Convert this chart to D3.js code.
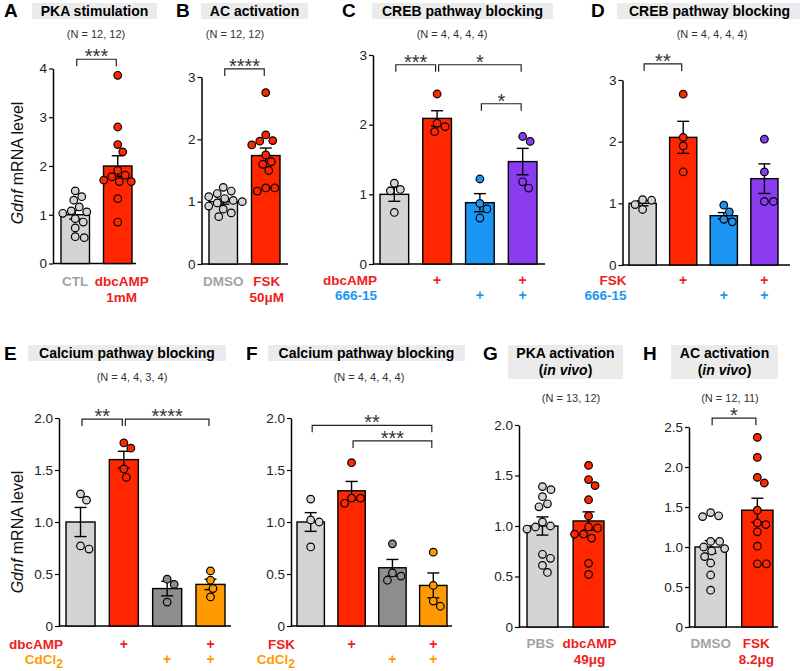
<!DOCTYPE html>
<html>
<head>
<meta charset="utf-8">
<title>Gdnf mRNA panels</title>
<script src="https://d3js.org/d3.v7.min.js"></script>
<style>
  * { margin: 0; padding: 0; }
  body { background: #fff; }
  svg { display: block; font-family: "Liberation Sans", Arial, sans-serif; }
</style>
</head>
<body>
<div id="chart"></div>
<script>
// colours
const GREY = "#d4d4d4", RED = "#ff2600", BLUE = "#1b96f3", PURPLE = "#8b3cf0",
      DGREY = "#8e8e8e", ORANGE = "#ff9a00", LABEL_GREY = "#a3a3a3", TXT_RED = "#f0201c";

// ---- A: PKA stimulation
const aValues = [
  [1.49, 1.37, 1.30, 1.16, 1.03, 1.06, 1.08, 0.92, 0.85, 0.73, 0.53, 0.55],
  [3.86, 2.80, 2.44, 2.29, 1.91, 1.81, 1.78, 1.71, 1.68, 1.68, 1.33, 0.85]
];
const aMeans = [1.00, 2.00];
const aSems = [0.09, 0.21];

// ---- B: AC activation
const bValues = [
  [1.23, 1.17, 1.13, 1.08, 1.05, 1.02, 1.00, 0.98, 0.93, 0.88, 0.82, 0.76],
  [2.75, 2.07, 1.98, 1.97, 1.91, 1.75, 1.64, 1.60, 1.50, 1.22, 1.22, 1.17]
];
const bMeans = [1.00, 1.74];
const bSems = [0.04, 0.12];

// ---- C: CREB pathway blocking (dbcAMP)
const cValues = [
  [1.16, 1.07, 1.05, 0.74],
  [2.44, 2.02, 1.97, 1.90],
  [1.22, 0.87, 0.79, 0.66],
  [1.83, 1.76, 1.18, 1.09]
];
const cMeans = [1.00, 2.09, 0.88, 1.47];
const cSems = [0.10, 0.11, 0.13, 0.19];

// ---- D: CREB pathway blocking (FSK)
const dValues = [
  [1.06, 1.05, 0.98, 0.90],
  [2.77, 2.07, 1.93, 1.51],
  [0.97, 0.86, 0.74, 0.70],
  [2.04, 1.51, 1.03, 1.03]
];
const dMeans = [1.00, 2.07, 0.80, 1.40];
const dSems = [0.04, 0.26, 0.05, 0.24];

// ---- E: calcium pathway blocking (dbcAMP)
const eValues = [
  [1.27, 1.21, 0.77, 0.74],
  [1.76, 1.71, 1.51, 1.43],
  [0.45, 0.40, 0.23],
  [0.53, 0.44, 0.36, 0.28]
];
const eMeans = [1.00, 1.60, 0.36, 0.40];
const eSems = [0.14, 0.08, 0.07, 0.05];

// ---- F: calcium pathway blocking (FSK)
const fValues = [
  [1.22, 1.02, 1.00, 0.76],
  [1.57, 1.23, 1.23, 1.18],
  [0.79, 0.51, 0.48, 0.44],
  [0.71, 0.39, 0.24, 0.19]
];
const fMeans = [1.00, 1.30, 0.56, 0.39];
const fSems = [0.09, 0.09, 0.08, 0.12];

// ---- G: PKA activation in vivo
const gValues = [
  [1.36, 1.39, 1.29, 1.22, 1.19, 1.04, 1.00, 0.99, 0.97, 0.72, 0.68, 0.61, 0.54],
  [1.60, 1.46, 1.40, 1.26, 1.10, 0.98, 0.99, 0.92, 0.92, 0.88, 0.63, 0.52]
];
const gMeans = [1.00, 1.05];
const gSems = [0.09, 0.09];

// ---- H: AC activation in vivo
const hValues = [
  [1.43, 1.38, 1.39, 1.07, 1.07, 1.00, 0.98, 0.95, 0.88, 0.80, 0.65, 0.46],
  [2.37, 2.12, 1.87, 1.80, 1.46, 1.30, 1.28, 1.19, 1.01, 0.79, 0.79]
];
const hMeans = [1.00, 1.46];
const hSems = [0.08, 0.15];

// tick values / labels
const ticks4 = [0, 1, 2, 3, 4];
const ticks3 = [0, 1, 2, 3];
const ticks2 = [0, 0.5, 1, 1.5, 2];
const ticks25 = [0, 0.5, 1, 1.5, 2, 2.5];
const fmtInt = d => String(d);
const fmtDec = d => d === 0 ? "0" : d.toFixed(1);

// significance brackets: [from bar, to bar, stars, height in data units]
const aSig = [[0, 1, "***", 4.19]];
const bSig = [[0, 1, "****", 3.13]];
const cSig = [[0, 1, "***", 2.86], [1, 3, "*", 2.86], [2, 3, "*", 2.30]];
const dSig = [[0, 1, "**", 3.26]];
const eSig = [[0, 1, "**", 1.99], [1, 3, "****", 1.99]];
const fSig = [[0, 3, "**", 1.93], [1, 3, "***", 1.78]];
const hSig = [[0, 1, "*", 2.61]];

const panels = [
  { letter: "A", lx: 4, ly: 17, title: ["PKA stimulation"], box: [32, 157], ty: 3,
    n: "(N = 12, 12)", nx: 96, ny: 38,
    values: aValues, means: aMeans, sems: aSems, colors: [GREY, RED],
    ticks: ticks4, fmt: fmtInt, yMax: 4, y0: 263.5, y1: 68.5,
    axisX: 53, axisEnd: 136, barL: 61, barR: 132, sig: aSig,
    groups: [[["CTL"], LABEL_GREY, 0], [["dbcAMP", "1mM"], TXT_RED, 4]], gy: 286 },
  { letter: "B", lx: 176, ly: 17, title: ["AC activation"], box: [201, 308], ty: 3,
    n: "(N = 12, 12)", nx: 235, ny: 38,
    values: bValues, means: bMeans, sems: bSems, colors: [GREY, RED],
    ticks: ticks3, fmt: fmtInt, yMax: 3, y0: 264, y1: 77,
    axisX: 201.5, axisEnd: 288, barL: 209, barR: 280, sig: bSig,
    groups: [[["DMSO"], LABEL_GREY, 0], [["FSK", "50\u03bcM"], TXT_RED, 1]], gy: 286 },
  { letter: "C", lx: 342, ly: 17, title: ["CREB pathway blocking"], box: [372, 553], ty: 3,
    n: "(N = 4, 4, 4, 4)", nx: 452, ny: 38,
    values: cValues, means: cMeans, sems: cSems, colors: [GREY, RED, BLUE, PURPLE],
    ticks: ticks3, fmt: fmtInt, yMax: 3, y0: 264, y1: 55,
    axisX: 373, axisEnd: 545, barL: 380, barR: 537, sig: cSig,
    rows: [[["dbcAMP"], TXT_RED, [0, 1, 0, 1]], [["666-15"], BLUE, [0, 0, 1, 1]]], ry: 285 },
  { letter: "D", lx: 591, ly: 17, title: ["CREB pathway blocking"], box: [617, 802], ty: 3,
    n: "(N = 4, 4, 4, 4)", nx: 712, ny: 38,
    values: dValues, means: dMeans, sems: dSems, colors: [GREY, RED, BLUE, PURPLE],
    ticks: ticks3, fmt: fmtInt, yMax: 3, y0: 265, y1: 80,
    axisX: 622.5, axisEnd: 790, barL: 629, barR: 778, sig: dSig,
    rows: [[["FSK"], TXT_RED, [0, 1, 0, 1]], [["666-15"], BLUE, [0, 0, 1, 1]]], ry: 285 },
  { letter: "E", lx: 4, ly: 360, title: ["Calcium pathway blocking"], box: [28, 226], ty: 345,
    n: "(N = 4, 4, 3, 4)", nx: 132, ny: 381,
    values: eValues, means: eMeans, sems: eSems, colors: [GREY, RED, DGREY, ORANGE],
    ticks: ticks2, fmt: fmtDec, yMax: 2, y0: 626, y1: 418,
    axisX: 59, axisEnd: 231, barL: 66, barR: 225, sig: eSig,
    rows: [[["dbcAMP"], TXT_RED, [0, 1, 0, 1]], [["CdCl", "2"], ORANGE, [0, 0, 1, 1]]], ry: 649 },
  { letter: "F", lx: 246, ly: 360, title: ["Calcium pathway blocking"], box: [268, 465], ty: 345,
    n: "(N = 4, 4, 4, 4)", nx: 369, ny: 381,
    values: fValues, means: fMeans, sems: fSems, colors: [GREY, RED, DGREY, ORANGE],
    ticks: ticks2, fmt: fmtDec, yMax: 2, y0: 626, y1: 418,
    axisX: 291, axisEnd: 452, barL: 297, barR: 447, sig: fSig,
    rows: [[["FSK"], TXT_RED, [0, 1, 0, 1]], [["CdCl", "2"], ORANGE, [0, 0, 1, 1]]], ry: 649 },
  { letter: "G", lx: 483, ly: 360, title: ["PKA activation", "(in vivo)"], box: [508, 623], ty: 345,
    n: "(N = 13, 12)", nx: 571, ny: 402,
    values: gValues, means: gMeans, sems: gSems, colors: [GREY, RED],
    ticks: ticks2, fmt: fmtDec, yMax: 2, y0: 627, y1: 425,
    axisX: 519, axisEnd: 609, barL: 527, barR: 604, sig: [],
    groups: [[["PBS"], LABEL_GREY, -2], [["dbcAMP", "49\u03bcg"], TXT_RED, 1]], gy: 648 },
  { letter: "H", lx: 643, ly: 360, title: ["AC activation", "(in vivo)"], box: [671, 778], ty: 345,
    n: "(N = 12, 11)", nx: 730, ny: 402,
    values: hValues, means: hMeans, sems: hSems, colors: [GREY, RED],
    ticks: ticks25, fmt: fmtDec, yMax: 2.5, y0: 627, y1: 427,
    axisX: 689, axisEnd: 778, barL: 695, barR: 773, sig: hSig,
    groups: [[["DMSO"], LABEL_GREY, 0], [["FSK", "8.2\u03bcg"], TXT_RED, -1]], gy: 648 }
];

const W = 800, H = 671, R = 3.8;

const svg = d3.select("#chart").append("svg")
  .attr("width", W).attr("height", H)
  .attr("viewBox", `0 0 ${W} ${H}`);

// simple beeswarm: highest values first, nudge sideways until no overlap
function swarm(vals, y) {
  const placed = [];
  const out = new Array(vals.length);
  const gap = 2 * R + 1;
  d3.range(vals.length).sort((a, b) => vals[b] - vals[a]).forEach(i => {
    const py = y(vals[i]);
    for (let k = 0; k < 200; k++) {
      const dx = (k % 2 ? 1 : -1) * Math.ceil(k / 2) * 0.5;
      const ok = placed.every(p => (p[0] - dx) ** 2 + (p[1] - py) ** 2 >= gap * gap);
      if (ok) { placed.push([dx, py]); out[i] = dx; break; }
    }
  });
  return out;
}

function drawPanel(p) {
  const g = svg.append("g");
  const n = p.values.length;

  const y = d3.scaleLinear().domain([0, p.yMax]).range([p.y0, p.y1]);
  const x = d3.scaleBand().domain(d3.range(n)).range([p.barL, p.barR])
    .paddingInner(0.33).paddingOuter(0);
  const cx = i => x(i) + x.bandwidth() / 2;

  // letter + title
  g.append("text").attr("x", p.lx).attr("y", p.ly)
    .attr("font-size", 19).attr("font-weight", "bold").text(p.letter);
  const boxH = p.title.length === 1 ? 16 : 34;
  g.append("rect").attr("x", p.box[0]).attr("y", p.ty)
    .attr("width", p.box[1] - p.box[0]).attr("height", boxH).attr("fill", "#ebebeb");
  p.title.forEach((t, k) => {
    const tt = g.append("text").attr("x", (p.box[0] + p.box[1]) / 2).attr("y", p.ty + 12.5 + k * 17.5)
      .attr("text-anchor", "middle").attr("font-size", 14).attr("font-weight", "bold");
    if (t === "(in vivo)") {
      tt.append("tspan").text("(");
      tt.append("tspan").attr("font-style", "italic").text("in vivo");
      tt.append("tspan").text(")");
    } else tt.text(t);
  });
  g.append("text").attr("x", p.nx).attr("y", p.ny).attr("text-anchor", "middle")
    .attr("font-size", 11).attr("fill", "#333").text(p.n);

  // y axis
  const ax = g.append("g").attr("transform", `translate(${p.axisX},0)`)
    .call(d3.axisLeft(y).tickValues(p.ticks).tickFormat(p.fmt)
      .tickSize(4).tickSizeOuter(0).tickPadding(2));
  ax.select(".domain").attr("stroke-width", 1.5);
  ax.selectAll(".tick line").attr("stroke-width", 1.2);
  ax.selectAll(".tick text").attr("font-size", 13.5)
    .attr("font-family", "Liberation Sans, Arial, sans-serif").attr("fill", "#222");
  g.append("line").attr("x1", p.axisX).attr("x2", p.axisEnd)
    .attr("y1", y(0)).attr("y2", y(0)).attr("stroke", "#000").attr("stroke-width", 1.5);

  // bars
  g.selectAll(".bar").data(p.means).join("rect")
    .attr("x", (d, i) => x(i)).attr("width", x.bandwidth())
    .attr("y", d => y(d)).attr("height", d => y(0) - y(d))
    .attr("fill", (d, i) => p.colors[i]).attr("stroke", "#000").attr("stroke-width", 1.4);

  // error bars (mean ± sem)
  p.means.forEach((m, i) => {
    const e = g.append("g").attr("stroke", "#000").attr("stroke-width", 1.4);
    const top = y(m + p.sems[i]), bot = y(m - p.sems[i]);
    e.append("line").attr("x1", cx(i)).attr("x2", cx(i)).attr("y1", top).attr("y2", bot);
    e.append("line").attr("x1", cx(i) - 6).attr("x2", cx(i) + 6).attr("y1", top).attr("y2", top);
    e.append("line").attr("x1", cx(i) - 6).attr("x2", cx(i) + 6).attr("y1", bot).attr("y2", bot);
  });

  // points
  p.values.forEach((vals, i) => {
    const off = swarm(vals, y);
    g.append("g").selectAll("circle").data(vals).join("circle")
      .attr("cx", (d, k) => cx(i) + off[k]).attr("cy", d => y(d)).attr("r", R)
      .attr("fill", p.colors[i]).attr("stroke", "#000").attr("stroke-width", 1.2);
  });

  // significance brackets
  p.sig.forEach(([a, b, stars, h]) => {
    const x1 = cx(a) + 1.5, x2 = cx(b) - 1.5, yy = y(h);
    g.append("path").attr("d", `M${x1},${yy + 7}V${yy}H${x2}V${yy + 7}`)
      .attr("fill", "none").attr("stroke", "#222").attr("stroke-width", 1.2);
    g.append("text").attr("x", (x1 + x2) / 2).attr("y", yy + 4).attr("text-anchor", "middle")
      .attr("font-size", 20).attr("fill", "#333").text(stars);
  });

  // x labels: group names
  if (p.groups) {
    p.groups.forEach(([lines, col, shift], i) => {
      lines.forEach((t, k) => {
        g.append("text").attr("x", cx(i) + shift).attr("y", p.gy + k * 16).attr("text-anchor", "middle")
          .attr("font-size", 13.5).attr("font-weight", "bold").attr("fill", col).text(t);
      });
    });
  }
  // x labels: +/- treatment rows
  if (p.rows) {
    p.rows.forEach(([parts, col, on], r) => {
      const yy = p.ry + r * 14.5;
      const t = g.append("text").attr("x", p.axisX + 4).attr("y", yy).attr("text-anchor", "end")
        .attr("font-size", 13.5).attr("font-weight", "bold").attr("fill", col);
      t.append("tspan").text(parts[0]);
      if (parts[1]) t.append("tspan").attr("dy", 4).attr("font-size", 12).text(parts[1]);
      on.forEach((v, i) => {
        if (v) g.append("text").attr("x", cx(i)).attr("y", yy).attr("text-anchor", "middle")
          .attr("font-size", 14).attr("font-weight", "bold").attr("fill", col).text("+");
      });
    });
  }
}

panels.forEach(drawPanel);

// shared y-axis titles
[[23, 163], [23, 532]].forEach(([lx, cy]) => {
  const t = svg.append("text").attr("transform", `translate(${lx},${cy}) rotate(-90)`)
    .attr("text-anchor", "middle").attr("font-size", 16).attr("fill", "#111");
  t.append("tspan").attr("font-style", "italic").text("Gdnf");
  t.append("tspan").text(" mRNA level");
});
</script>
</body>
</html>
